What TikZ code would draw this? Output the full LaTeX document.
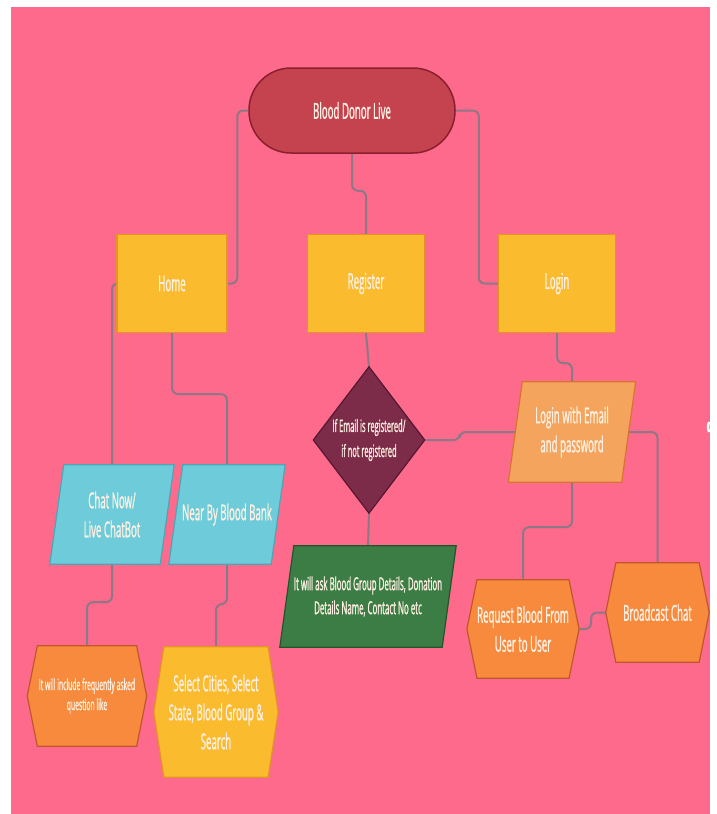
\documentclass[tikz,border=0pt]{standalone}
\usepackage{fontspec}
\setmainfont{Open Sans}[FakeStretch=0.44, FakeBold=1]
\usetikzlibrary{calc}

\definecolor{paper}{HTML}{FE6A8B}
\definecolor{wirecol}{HTML}{8E7786}
\definecolor{cream}{HTML}{FDF0E2}
\definecolor{bloodred}{HTML}{C4434F}
\definecolor{bloodedge}{HTML}{8C1F2D}
\definecolor{mustard}{HTML}{FBBB2E}
\definecolor{mustardedge}{HTML}{E39425}
\definecolor{plum}{HTML}{7C2B48}
\definecolor{plumedge}{HTML}{561831}
\definecolor{peach}{HTML}{F4A45C}
\definecolor{peachedge}{HTML}{D8742F}
\definecolor{skyblue}{HTML}{6ECCDA}
\definecolor{skyedge}{HTML}{4DA6B6}
\definecolor{leaf}{HTML}{3C7D45}
\definecolor{leafedge}{HTML}{23552B}
\definecolor{tangerine}{HTML}{F78A3D}
\definecolor{tangedge}{HTML}{C2562A}

\pgfdeclarelayer{paperlayer}
\pgfdeclarelayer{wirelayer}
\pgfdeclarelayer{shapelayer}
\pgfsetlayers{paperlayer,wirelayer,shapelayer,main}

\begin{document}
\begin{tikzpicture}[x=1pt, y=-1pt,
  words/.style={text=cream, align=center, inner sep=0pt, font=\fontsize{22}{29}\selectfont},
  block/.style={words, draw=mustardedge, fill=mustard, line width=1.2pt, minimum width=#1, minimum height=98pt},
  link/.style={draw=wirecol, line width=2pt, rounded corners=6pt}]

\useasboundingbox (0,0) rectangle (716,814);

% Pink sheet, cut off at the edges
\begin{pgfonlayer}{paperlayer}
  \fill[white] (0,0) rectangle (716,814);
  \fill[paper] (11,7) rectangle (710,814);
  \draw[white, line width=2.5pt] (709.3,432) arc[start angle=150, end angle=210, radius=10];
\end{pgfonlayer}

% Top and first row
\node[block=206pt, minimum height=85pt, rounded corners=42pt, fill=bloodred, draw=bloodedge, line width=1.5pt] (bdl) at (352,110.5) {Blood Donor Live};
\node[block=110pt] (home)     at (172,283.5) {Home};
\node[block=117pt] (register) at (366,283.5) {Register};
\node[block=117pt] (login)    at (557,283.5) {Login};

% Decision and login step
\node[words, font=\fontsize{17}{25}\selectfont, minimum width=111pt, minimum height=146pt] (check) at (369,440) {If Email is registered/\\if not registered};
\node[words, minimum width=113pt, minimum height=100pt] (loginmail) at (572,432) {Login with Email\\and password};

% Home branch
\node[words, minimum width=110pt, minimum height=99pt] (chat)   at (112,514.5) {Chat Now/\\Live ChatBot};
\node[words, minimum width=102pt, minimum height=99pt] (nearby) at (227,514.5) {Near By Blood Bank};
\node[words, font=\fontsize{15.5}{20}\selectfont, minimum width=99pt, minimum height=100pt] (faq) at (87,696) {It will include frequently asked\\question like};
\node[words, minimum width=104pt, minimum height=130pt] (select) at (216,712) {Select Cities, Select\\State, Blood Group \&\\Search};

% Register branch
\node[words, font=\fontsize{18}{24}\selectfont, minimum width=162pt, minimum height=101pt] (details) at (368,596.5) {It will ask Blood Group Details, Donation\\Details Name, Contact No etc};

% Login branch
\node[words, minimum width=90pt, minimum height=98pt] (request)   at (523,629)   {Request Blood From\\User to User};
\node[words, minimum width=83pt, minimum height=99pt] (broadcast) at (657.5,612.5) {Broadcast Chat};

% Shapes behind the texts
\begin{pgfonlayer}{shapelayer}
  \filldraw[fill=plum, draw=plumedge, line width=1.2pt]
    (check.north) -- (check.east) -- (check.south) -- (check.west) -- cycle;
  \foreach \n/\f/\d in {chat/skyblue/skyedge, nearby/skyblue/skyedge, loginmail/peach/peachedge, details/leaf/leafedge}
    \filldraw[fill=\f, draw=\d, line width=1.2pt]
      ([xshift=7pt]\n.north west) -- ([xshift=7pt]\n.north east) --
      ([xshift=-7pt]\n.south east) -- ([xshift=-7pt]\n.south west) -- cycle;
  \foreach \n/\f/\d in {faq/tangerine/tangedge, select/mustard/mustardedge, request/tangerine/tangedge, broadcast/tangerine/tangedge}
    \filldraw[fill=\f, draw=\d, line width=1.2pt]
      (\n.north west) -- (\n.north east) -- ([xshift=10pt]\n.east) --
      (\n.south east) -- (\n.south west) -- ([xshift=-10pt]\n.west) -- cycle;
\end{pgfonlayer}

% Connectors
\begin{pgfonlayer}{wirelayer}
  \draw[link] (bdl.west) -- ++(-11,0) |- (home.east);
  \draw[link] (bdl.south) -- ++(0,37) -| (register.north);
  \draw[link] (bdl.east) -- ++(23,0) |- (login.west);
  \draw[link] (home.west) -| (chat.north);
  \draw[link] (home.south) -- ++(0,61) -| (nearby.north);
  \draw[link] (register.south) -- (check.north);
  \draw[link] (check.east) -- ++(35,0) |- (loginmail.west);
  \draw[link] (check.south) -- (details.north);
  \draw[link] (login.south) -- ++(0,30) -| (loginmail.north);
  \draw[link] (loginmail.east) -| (broadcast.north);
  \draw[link] (loginmail.south) -- ++(0,45) -| (request.north);
  \draw[link] ([xshift=10pt]request.east) -- ++(12,0) |- ([xshift=-10pt]broadcast.west);
  \draw[link] (chat.south) -- ++(0,38) -| (faq.north);
  \draw[link] (nearby.south) -- ++(0,40) -| (select.north);
\end{pgfonlayer}

\end{tikzpicture}
\end{document}
